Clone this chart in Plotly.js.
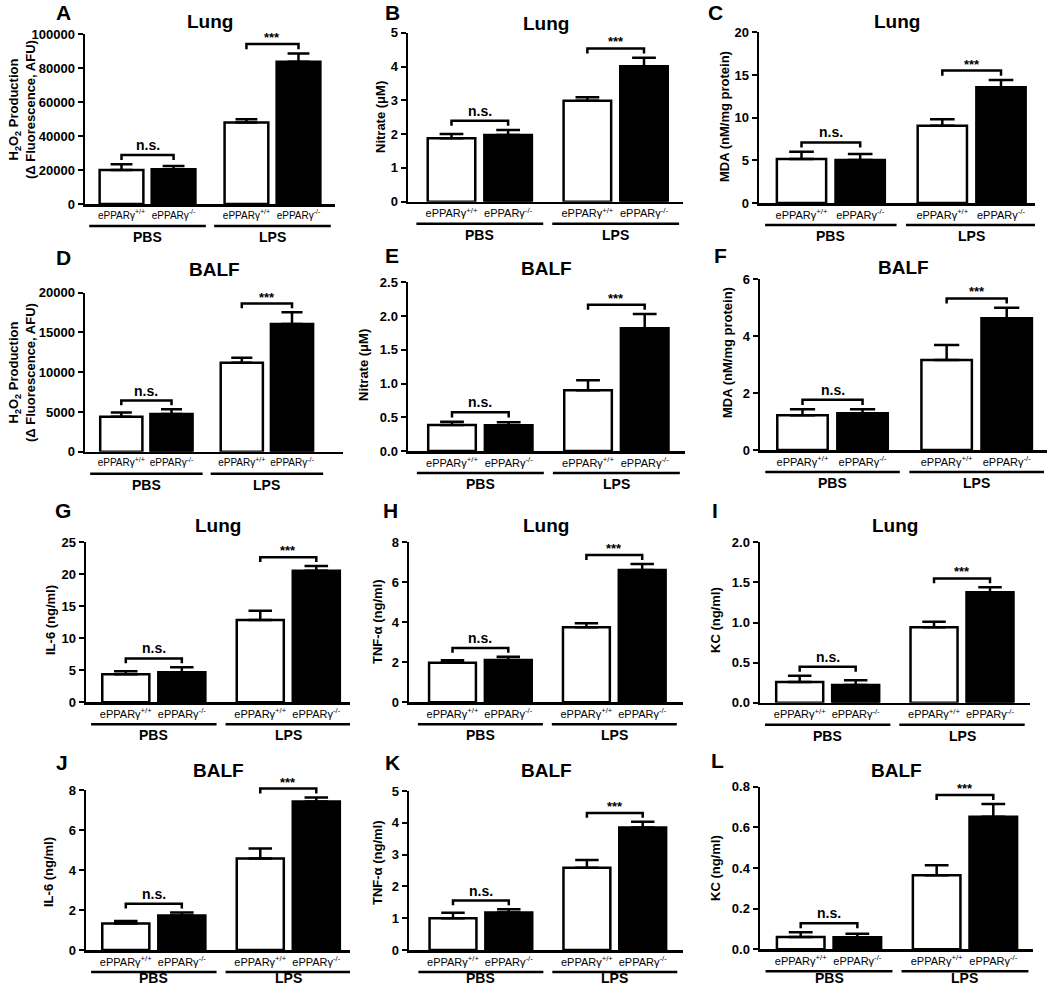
<!DOCTYPE html>
<html><head><meta charset="utf-8">
<script src="https://cdn.plot.ly/plotly-3.0.1.min.js"></script>
<style>body{margin:0;background:#fff}#chart{width:1050px;height:987px}</style>
</head><body><div id="chart"></div>
<script>
// ---------- DATA (order: PBS wt, PBS ko, LPS wt, LPS ko) ----------
const groups = ["PBS", "LPS"];
const genotypes = ["ePPARγ<sup>+/+</sup>", "ePPARγ<sup>-/-</sup>"];
const sigLabels = ["n.s.", "***"];

const lungH2O2Mean = [20000, 20400, 48000, 83700];
const lungH2O2Sem  = [3350, 1950, 1800, 4900];
const lungNitrateMean = [1.88, 1.97, 2.99, 4.01];
const lungNitrateSem  = [0.12, 0.15, 0.10, 0.25];
const lungMDAMean = [5.16, 5.04, 9.06, 13.56];
const lungMDASem  = [0.84, 0.70, 0.75, 0.86];
const balfH2O2Mean = [4400, 4740, 11200, 16060];
const balfH2O2Sem  = [545, 590, 630, 1470];
const balfNitrateMean = [0.385, 0.38, 0.90, 1.82];
const balfNitrateSem  = [0.05, 0.045, 0.15, 0.21];
const balfMDAMean = [1.22, 1.29, 3.16, 4.62];
const balfMDASem  = [0.21, 0.14, 0.52, 0.37];
const lungIL6Mean = [4.38, 4.69, 12.86, 20.57];
const lungIL6Sem  = [0.47, 0.78, 1.46, 0.73];
const lungTNFMean = [1.98, 2.12, 3.75, 6.62];
const lungTNFSem  = [0.12, 0.16, 0.20, 0.30];
const lungKCMean = [0.258, 0.22, 0.94, 1.376];
const lungKCSem  = [0.079, 0.059, 0.07, 0.063];
const balfIL6Mean = [1.33, 1.72, 4.58, 7.42];
const balfIL6Sem  = [0.12, 0.15, 0.50, 0.21];
const balfTNFMean = [1.0, 1.18, 2.59, 3.85];
const balfTNFSem  = [0.17, 0.10, 0.24, 0.18];
const balfKCMean = [0.061, 0.059, 0.364, 0.652];
const balfKCSem  = [0.023, 0.017, 0.049, 0.063];

// ---------- PANEL CONFIG (layout) ----------
const H2O2T = "H<sub>2</sub>O<sub>2</sub> Production<br>(Δ Fluorescence, AFU)";
const panels = [
 {letter:"A", title:"Lung", ytitle:H2O2T, mean:lungH2O2Mean, sem:lungH2O2Sem, ymax:100000, dtick:20000, fmt:"d", xfs:10,
  box:{L:85,R:335,top:34,bot:204,c1:121.5,c4:298.5}, yt:[22,110], tt:22, lp:[63,13]},
 {letter:"B", title:"Lung", ytitle:"Nitrate (μM)", mean:lungNitrateMean, sem:lungNitrateSem, ymax:5, dtick:1, fmt:"d", xfs:11,
  box:{L:408,R:683,top:32.7,bot:201.7,c1:451.5,c4:644}, yt:[380,117], tt:23, lp:[392,13]},
 {letter:"C", title:"Lung", ytitle:"MDA (nM/mg protein)", mean:lungMDAMean, sem:lungMDASem, ymax:20, dtick:5, fmt:"d", xfs:11,
  box:{L:759,R:1035,top:32.3,bot:203,c1:801.5,c4:1001}, yt:[724,117], tt:22, lp:[715,13]},
 {letter:"D", title:"BALF", ytitle:H2O2T, mean:balfH2O2Mean, sem:balfH2O2Sem, ymax:20000, dtick:5000, fmt:"d", xfs:10,
  box:{L:85,R:343,top:292.7,bot:451.7,c1:121.3,c4:292}, yt:[22,373], tt:269, lp:[63,257]},
 {letter:"E", title:"BALF", ytitle:"Nitrate (μM)", mean:balfNitrateMean, sem:balfNitrateSem, ymax:2.5, dtick:0.5, fmt:".1f", xfs:11,
  box:{L:408,R:685,top:282.3,bot:451,c1:452,c4:644.7}, yt:[363,365], tt:268, lp:[392,255]},
 {letter:"F", title:"BALF", ytitle:"MDA (nM/mg protein)", mean:balfMDAMean, sem:balfMDASem, ymax:6, dtick:2, fmt:"d", xfs:11,
  box:{L:760,R:1047,top:279,bot:450,c1:802.5,c4:1006.7}, yt:[728,353], tt:267, lp:[720,255]},
 {letter:"G", title:"Lung", ytitle:"IL-6 (ng/ml)", mean:lungIL6Mean, sem:lungIL6Sem, ymax:25, dtick:5, fmt:"d", xfs:11,
  box:{L:86,R:350,top:542.3,bot:702.3,c1:125.8,c4:316.3}, yt:[50,620], tt:525, lp:[63,510]},
 {letter:"H", title:"Lung", ytitle:"TNF-α (ng/ml)", mean:lungTNFMean, sem:lungTNFSem, ymax:8, dtick:2, fmt:"d", xfs:11,
  box:{L:409,R:683,top:542.3,bot:702.3,c1:452.5,c4:642.2}, yt:[377,622], tt:525, lp:[390,510]},
 {letter:"I", title:"Lung", ytitle:"KC (ng/ml)", mean:lungKCMean, sem:lungKCSem, ymax:2, dtick:0.5, fmt:".1f", xfs:11,
  box:{L:760,R:1030,top:542.3,bot:702.7,c1:799.7,c4:990}, yt:[715,620], tt:525, lp:[715,510]},
 {letter:"J", title:"BALF", ytitle:"IL-6 (ng/ml)", mean:balfIL6Mean, sem:balfIL6Sem, ymax:8, dtick:2, fmt:"d", xfs:11,
  box:{L:86,R:350,top:790,bot:950,c1:125.8,c4:316.3}, yt:[48,872], tt:770, lp:[62,762]},
 {letter:"K", title:"BALF", ytitle:"TNF-α (ng/ml)", mean:balfTNFMean, sem:balfTNFSem, ymax:5, dtick:1, fmt:"d", xfs:11,
  box:{L:409,R:683,top:791,bot:950,c1:453,c4:642.7}, yt:[377,863], tt:770, lp:[392,762]},
 {letter:"L", title:"BALF", ytitle:"KC (ng/ml)", mean:balfKCMean, sem:balfKCSem, ymax:0.8, dtick:0.2, fmt:".1f", xfs:11,
  box:{L:760,R:1033,top:786.7,bot:949.3,c1:800.7,c4:993.3}, yt:[715,868], tt:770, lp:[717,760]}
];

// ---------- BUILD ----------
const W = 1050, H = 987;
const FONT = "Liberation Sans, Arial, Helvetica, sans-serif";
const xPos = [0, 1, 2.4, 3.4];
const barW = 0.84;
const traces = [], shapes = [], annotations = [];
const layout = {
  width: W, height: H, margin: {l:0, r:0, t:0, b:0},
  showlegend: false, paper_bgcolor: "#fff", plot_bgcolor: "#fff",
  font: {family: FONT, color: "#000"}
};
const py = v => 1 - v / H;
const px = v => v / W;

panels.forEach((p, i) => {
  const n = i + 1, s = n === 1 ? "" : String(n);
  const xa = "x" + s, ya = "y" + s;
  const b = p.box;
  const u = (b.c4 - b.c1) / (xPos[3] - xPos[0]);
  const d0 = py(b.bot), d1 = py(b.top);
  const toPaper = v => d0 + (v / p.ymax) * (d1 - d0);
  layout["xaxis" + s] = {
    domain: [px(b.L), px(b.R)], range: [(b.L - b.c1) / u, (b.R - b.c1) / u],
    anchor: ya, tickmode: "array", tickvals: xPos, tickangle: 0,
    ticktext: [genotypes[0], genotypes[1], genotypes[0], genotypes[1]],
    showline: true, linewidth: 2.5, linecolor: "#000", ticks: "", showgrid: false,
    zeroline: false, tickfont: {size: p.xfs, family: FONT, color: "#000"}, fixedrange: true
  };
  layout["yaxis" + s] = {
    domain: [d0, d1], range: [0, p.ymax], anchor: xa,
    tickmode: "linear", tick0: 0, dtick: p.dtick, tickformat: p.fmt,
    ticks: "outside", ticklen: 5, tickwidth: 2, tickcolor: "#000",
    showline: true, linewidth: 2.5, linecolor: "#000", showgrid: false, zeroline: false,
    tickfont: {size: 13, family: FONT, color: "#000", weight: "bold"}, fixedrange: true
  };
  const capW = 0.25 * barW * u;
  const mk = (idx, fill) => ({
    type: "bar", x: [xPos[idx[0]], xPos[idx[1]]], y: [p.mean[idx[0]], p.mean[idx[1]]],
    width: barW, xaxis: xa, yaxis: ya, hoverinfo: "skip",
    marker: {color: fill, line: {color: "#000", width: 2.5}},
    error_y: {type: "data", symmetric: false, array: [p.sem[idx[0]], p.sem[idx[1]]],
              arrayminus: [0, 0], color: "#000", thickness: 2.5, width: capW}
  });
  traces.push(mk([0, 2], "#fff"));
  traces.push(mk([1, 3], "#000"));

  const groupLabelY = Math.min(b.bot + 33, H - 9);
  [0, 1].forEach(g => {
    const a = 2 * g, c = 2 * g + 1;
    const center = (xPos[a] + xPos[c]) / 2;
    shapes.push({type: "line", xref: xa, yref: "paper", x0: center - 1.12, x1: center + 1.12,
                 y0: py(b.bot + 22), y1: py(b.bot + 22), line: {color: "#000", width: 2.5}});
    annotations.push({xref: xa, yref: "paper", x: center, y: py(groupLabelY), text: groups[g],
                      showarrow: false, xanchor: "center", yanchor: "middle",
                      font: {size: 14, family: FONT, color: "#000", weight: "bold"}});
    const top = Math.max(p.mean[a] + p.sem[a], p.mean[c] + p.sem[c]);
    const yb = toPaper(top + 0.055 * p.ymax), yt = toPaper(top + 0.025 * p.ymax);
    shapes.push({type: "path", xref: xa, yref: "paper",
                 path: `M${xPos[a]},${yt} L${xPos[a]},${yb} L${xPos[c]},${yb} L${xPos[c]},${yt}`,
                 line: {color: "#000", width: 2.5}});
    annotations.push({xref: xa, yref: "paper", x: center, y: yb, text: sigLabels[g], showarrow: false,
                      xanchor: "center", yanchor: "bottom", yshift: g === 0 ? 0 : -3,
                      font: {size: g === 0 ? 14 : 13, family: FONT, color: "#000", weight: "bold"}});
  });
  annotations.push({xref: "paper", yref: "paper", x: px((b.L + b.R) / 2), y: py(p.tt), text: p.title,
                    showarrow: false, xanchor: "center", yanchor: "middle",
                    font: {size: 19, family: FONT, color: "#000", weight: "bold"}});
  annotations.push({xref: "paper", yref: "paper", x: px(p.lp[0]), y: py(p.lp[1]), text: p.letter,
                    showarrow: false, xanchor: "center", yanchor: "middle",
                    font: {size: 21, family: FONT, color: "#000", weight: "bold"}});
  annotations.push({xref: "paper", yref: "paper", x: px(p.yt[0]), y: py(p.yt[1]), text: p.ytitle,
                    showarrow: false, textangle: -90, xanchor: "center", yanchor: "middle",
                    font: {size: 13, family: FONT, color: "#000", weight: "bold"}});
});
layout.shapes = shapes;
layout.annotations = annotations;
Plotly.newPlot("chart", traces, layout, {staticPlot: true, displayModeBar: false});
</script></body></html>
